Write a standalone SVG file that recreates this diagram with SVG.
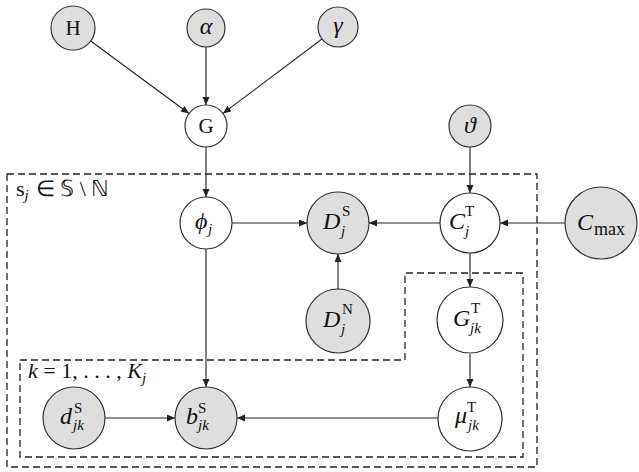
<svg xmlns="http://www.w3.org/2000/svg" width="639" height="472" viewBox="0 0 639 472" font-family="Liberation Serif">
<defs>
<marker id="arr" markerUnits="userSpaceOnUse" markerWidth="9" markerHeight="8" refX="8" refY="3.5" orient="auto">
<path d="M0,0 L8,3.5 L0,7 Z" fill="#222"/>
</marker>
<style>
.obs{fill:#dedede;stroke:#333;stroke-width:1.2}
.lat{fill:#fff;stroke:#333;stroke-width:1.2}
.plate{fill:none;stroke:#222;stroke-width:1.3;stroke-dasharray:7 4}
.e{stroke:#222;stroke-width:1.1;fill:none;marker-end:url(#arr)}
text{fill:#111}
.m{font-size:24px;font-style:italic}
.r{font-size:21px}
.s{font-size:15px}
.si{font-size:15px;font-style:italic}
.lab{font-size:22px}
</style>
</defs>
<rect width="639" height="472" fill="#fff"/>
<g id="plates">
<rect class="plate" x="7" y="174" width="530" height="293"/>
<path class="plate" d="M20,360 L405,360 L405,273 L523,273 L523,457 L20,457 Z"/>
<text font-family="Liberation Serif" class="lab" x="16" y="196">s<tspan class="si" dy="4">j</tspan><tspan dy="-4" dx="7">∈ 𝕊 \ ℕ</tspan></text>
<text font-family="Liberation Serif" class="lab" x="28" y="378" font-size="24"><tspan font-style="italic">k</tspan> = 1, . . . , <tspan font-style="italic">K</tspan><tspan class="si" dy="5">j</tspan></text>
</g>
<g id="edges">
<line class="e" x1="90.7" y1="41" x2="189" y2="113.5"/>
<line class="e" x1="206" y1="47" x2="206" y2="105"/>
<line class="e" x1="322" y1="39" x2="223" y2="113.4"/>
<line class="e" x1="206" y1="147" x2="206" y2="197"/>
<line class="e" x1="232" y1="223" x2="307" y2="223"/>
<line class="e" x1="440" y1="223" x2="369" y2="223"/>
<line class="e" x1="470" y1="147" x2="470" y2="193"/>
<line class="e" x1="565" y1="223" x2="500" y2="223"/>
<line class="e" x1="338" y1="289" x2="338" y2="254"/>
<line class="e" x1="470" y1="253" x2="470" y2="287"/>
<line class="e" x1="470" y1="354" x2="470" y2="387"/>
<line class="e" x1="206" y1="249" x2="206" y2="387"/>
<line class="e" x1="105" y1="418" x2="175" y2="418"/>
<line class="e" x1="438" y1="418" x2="237" y2="418"/>
</g>
<g id="H"><circle class="obs" cx="73" cy="28" r="22"/><text font-family="Liberation Serif" class="r" x="73" y="35" text-anchor="middle">H</text></g>
<g id="alpha"><circle class="obs" cx="206" cy="28" r="19"/><text font-family="Liberation Serif" class="m" x="206" y="34" text-anchor="middle" font-size="21">α</text></g>
<g id="gamma"><circle class="obs" cx="338" cy="27" r="20"/><text font-family="Liberation Serif" class="m" x="338" y="33" text-anchor="middle" font-size="21">γ</text></g>
<g id="G"><circle class="lat" cx="206" cy="126" r="21"/><text font-family="Liberation Serif" class="r" x="206" y="133" text-anchor="middle">G</text></g>
<g id="theta"><circle class="obs" cx="470" cy="126" r="21"/><text font-family="Liberation Serif" class="m" x="470" y="133" text-anchor="middle" font-size="21">ϑ</text></g>
<g id="phi"><circle class="lat" cx="206" cy="223" r="26"/><text font-family="Liberation Serif" class="m" x="195" y="229">ϕ</text><text font-family="Liberation Serif" class="si" x="208" y="234">j</text></g>
<g id="DS"><circle class="obs" cx="338" cy="223" r="31"/><text font-family="Liberation Serif" class="m" x="323" y="229">D</text><text font-family="Liberation Serif" class="s" x="342" y="216">S</text><text font-family="Liberation Serif" class="si" x="341" y="236">j</text></g>
<g id="CT"><circle class="lat" cx="470" cy="223" r="30"/><text font-family="Liberation Serif" class="m" x="449" y="229">C</text><text font-family="Liberation Serif" class="s" x="465" y="216">T</text><text font-family="Liberation Serif" class="si" x="465" y="236">j</text></g>
<g id="Cmax"><circle class="obs" cx="601" cy="223" r="36"/><text font-family="Liberation Serif" class="m" x="577" y="230" font-size="25">C</text><text font-family="Liberation Serif" x="594" y="235" font-size="18">max</text></g>
<g id="DN"><circle class="obs" cx="338" cy="321" r="32"/><text font-family="Liberation Serif" class="m" x="323" y="327">D</text><text font-family="Liberation Serif" class="s" x="342" y="314">N</text><text font-family="Liberation Serif" class="si" x="341" y="334">j</text></g>
<g id="GT"><circle class="lat" cx="470" cy="320" r="33"/><text font-family="Liberation Serif" class="m" x="453" y="326">G</text><text font-family="Liberation Serif" class="s" x="471" y="313">T</text><text font-family="Liberation Serif" class="si" x="470" y="333">jk</text></g>
<g id="mu"><circle class="lat" cx="470" cy="419" r="32"/><text font-family="Liberation Serif" class="m" x="455" y="423">μ</text><text font-family="Liberation Serif" class="s" x="467" y="412">T</text><text font-family="Liberation Serif" class="si" x="468" y="430">jk</text></g>
<g id="b"><circle class="obs" cx="206" cy="418" r="31"/><text font-family="Liberation Serif" class="m" x="186" y="424">b</text><text font-family="Liberation Serif" class="s" x="198" y="413">S</text><text font-family="Liberation Serif" class="si" x="198" y="430">jk</text></g>
<g id="d"><circle class="obs" cx="74" cy="418" r="31"/><text font-family="Liberation Serif" class="m" x="60" y="424">d</text><text font-family="Liberation Serif" class="s" x="74" y="413">S</text><text font-family="Liberation Serif" class="si" x="73" y="430">jk</text></g>
</svg>
